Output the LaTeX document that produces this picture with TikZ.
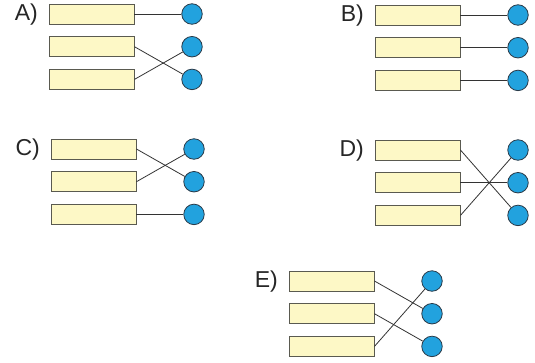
\documentclass[tikz,border=0pt]{standalone}
\usepackage{fontspec}
\setmainfont{Liberation Sans}
\definecolor{boxfill}{HTML}{FDF8C6}
\definecolor{boxline}{HTML}{5A5A50}
\definecolor{dotfill}{HTML}{22A2DE}
\definecolor{dotline}{HTML}{2A3A48}
\definecolor{wire}{HTML}{333333}
\tikzset{
  slot/.style={draw=boxline, fill=boxfill, line width=0.9pt, minimum width=85pt, minimum height=20pt, inner sep=0pt},
  dot/.style={circle, draw=dotline, fill=dotfill, line width=0.8pt, minimum size=20.5pt, inner sep=0pt},
  tag/.style={anchor=east, font=\fontsize{23}{25}\selectfont, inner sep=0pt, text=black!85},
  wireline/.style={draw=wire, line width=0.8pt}
}
\newcommand{\mkgroup}[5]{%
  % #1 name, #2 x, #3 y, #4 label, #5 permutation list
  \foreach \i in {1,2,3}{
    \node[slot] (#1-r\i) at ({#2+42.5}, {#3+(\i-1)*32.7}) {};
    \node[dot] (#1-c\i) at ({#2+143}, {#3+(\i-1)*32.7}) {};
  }
  \node[tag] (#1-t) at ({#2-11}, {#3+0.5}) {#4};
  \foreach \a/\b in {#5}{
    \draw[wireline] (#1-r\a.east) -- (#1-c\b);
  }
}
\begin{document}
\begin{tikzpicture}[x=1pt,y=-1pt]
\useasboundingbox (0,0) rectangle (535,362);
\mkgroup{A}{49}{14}{A)}{1/1,2/3,3/2}
\mkgroup{B}{375}{15}{B)}{1/1,2/2,3/3}
\mkgroup{C}{51}{149}{C)}{1/2,2/1,3/3}
\mkgroup{D}{375}{150}{D)}{1/3,2/2,3/1}
\mkgroup{E}{289}{281}{E)}{1/2,2/3,3/1}
\end{tikzpicture}
\end{document}
